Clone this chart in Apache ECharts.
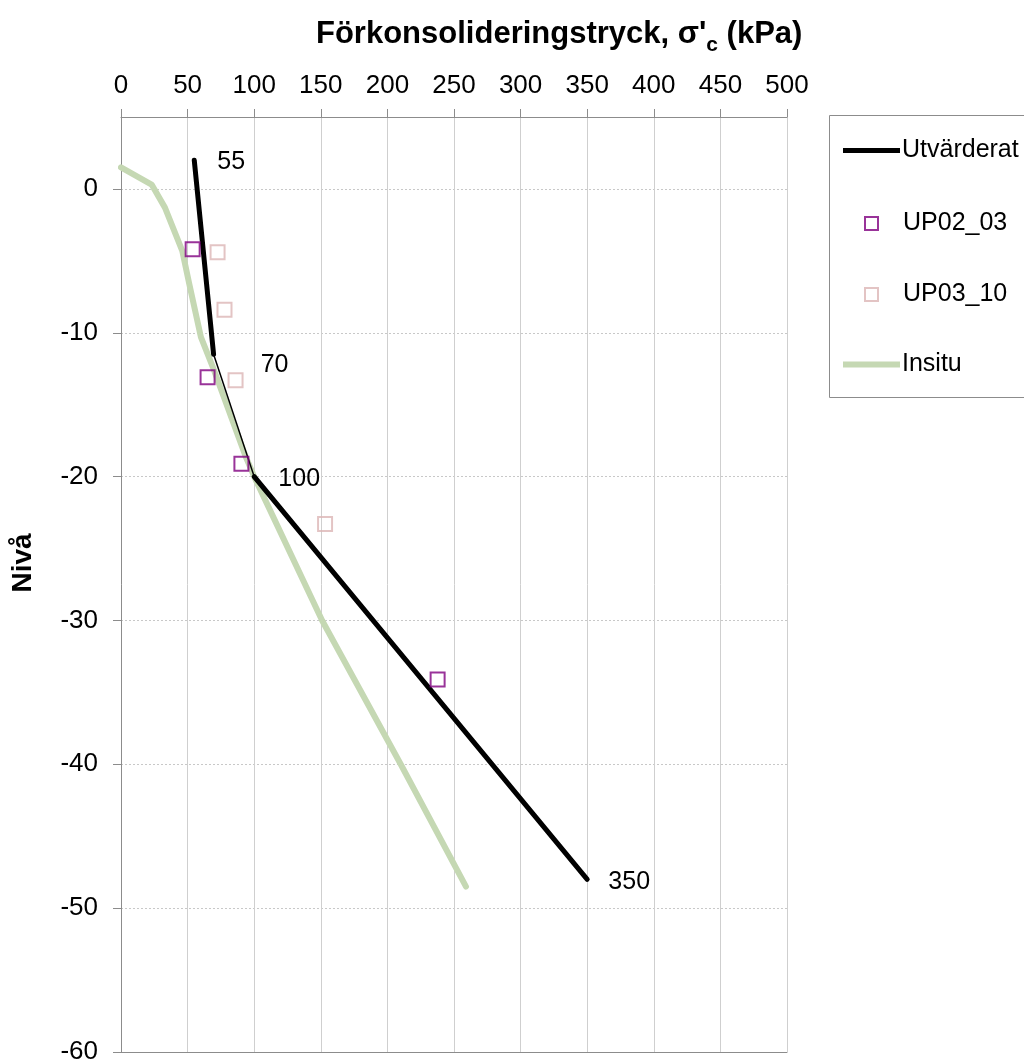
<!DOCTYPE html>
<html>
<head>
<meta charset="utf-8">
<script src="https://cdn.jsdelivr.net/npm/echarts@6/dist/echarts.min.js"></script>
<style>html,body{margin:0;padding:0;background:#fff}#c{width:1024px;height:1059px}</style>
</head>
<body>
<div id="c"></div>
<script>
// ---- data ----
var xTicks = [0, 50, 100, 150, 200, 250, 300, 350, 400, 450, 500];
var yTicks = [-60, -50, -40, -30, -20, -10, 0];
var utvX = [55, 69.5, 100, 350];
var utvY = [2, -11.5, -20, -48];
var utvLabels = ['55', '70', '100', '350'];
var up0203X = [53.8, 65, 90.4, 237.7];
var up0203Y = [-4.2, -13.1, -19.1, -34.1];
var up0310X = [72.5, 77.7, 86, 153.2];
var up0310Y = [-4.4, -8.4, -13.3, -23.3];
var insituX = [0, 23, 33, 46, 51, 60, 69, 94, 100, 151, 210, 259];
var insituY = [1.5, 0.3, -1.3, -4.3, -6.5, -10.3, -12.4, -18.7, -20, -30, -40, -48.5];

function pairs(xs, ys) { return xs.map(function (x, i) { return [x, ys[i]]; }); }

var FONT = "'Liberation Sans', Arial, sans-serif";
var labelOffsets = [[37, 2], [61, 11], [45, 2], [42, 3]];

var chart = echarts.init(document.getElementById('c'));
var option = {
  animation: false,
  backgroundColor: '#fff',
  textStyle: { fontFamily: FONT },
  title: {
    text: "Förkonsolideringstryck, σ'{sub|c} (kPa)",
    left: 311, top: 8,
    textStyle: {
      fontFamily: FONT, fontWeight: 'bold', fontSize: 31, color: '#000',
      rich: { sub: { fontFamily: FONT, fontWeight: 'bold', fontSize: 21, padding: [22, 0, 0, 0], color: '#000' } }
    }
  },
  grid: { left: 121, top: 117, width: 666, height: 935, outerBoundsMode: 'none', containLabel: false },
  xAxis: [{
    type: 'value', position: 'top', min: 0, max: 500, interval: 50,
    axisLine: { show: true, onZero: false, lineStyle: { color: '#8c8c8c', width: 1 } },
    axisTick: { show: true, inside: false, length: 8, lineStyle: { color: '#8c8c8c' } },
    axisLabel: { fontSize: 26, color: '#000', margin: 18, fontFamily: FONT,
      formatter: function (v) { return xTicks.indexOf(v) >= 0 ? String(v) : ''; } },
    splitLine: { show: true, lineStyle: { color: '#cfcfcf', width: 1, type: 'solid' } }
  }, {
    type: 'value', position: 'bottom', min: 0, max: 500, interval: 50,
    axisLine: { show: true, onZero: false, lineStyle: { color: '#8c8c8c', width: 1 } },
    axisTick: { show: false }, axisLabel: { show: false }, splitLine: { show: false }
  }],
  yAxis: {
    type: 'value', min: -60, max: 5, interval: 10,
    axisLine: { show: true, onZero: false, lineStyle: { color: '#8c8c8c', width: 1 } },
    axisTick: { show: true, inside: false, length: 8, lineStyle: { color: '#8c8c8c' } },
    axisLabel: { fontSize: 26, color: '#000', margin: 23, fontFamily: FONT, showMaxLabel: false,
      formatter: function (v) { return yTicks.indexOf(v) >= 0 ? String(v) : ''; } },
    splitLine: { show: true, lineStyle: { color: '#c8c8c8', width: 1, type: [2, 2] } }
  },
  legend: [
    { data: [{ name: 'Utvärderat', icon: 'rect' }], orient: 'vertical', left: 843, top: 138, padding: 0,
      itemWidth: 57, itemHeight: 5, textStyle: { fontSize: 25, color: '#000', fontFamily: FONT, padding: [0, 0, 0, -3] } },
    { data: [{ name: 'UP02_03', icon: 'rect' }, { name: 'UP03_10', icon: 'rect' }], orient: 'vertical', left: 864, top: 211, padding: 0,
      itemGap: 46, itemWidth: 13, itemHeight: 13,
      textStyle: { fontSize: 25, color: '#000', fontFamily: FONT, padding: [0, 0, 0, 20] } },
    { data: [{ name: 'Insitu', icon: 'rect' }], orient: 'vertical', left: 843, top: 352, padding: 0,
      itemWidth: 57, itemHeight: 6, textStyle: { fontSize: 25, color: '#000', fontFamily: FONT, padding: [0, 0, 0, -3] } }
  ],
  graphic: [
    { type: 'rect', shape: { x: 829.5, y: 115.5, width: 210, height: 282 }, style: { fill: 'none', stroke: '#8c8c8c', lineWidth: 1 }, z: 0 },
    { type: 'text', x: 23, y: 563, rotation: Math.PI / 2,
      style: { text: 'Nivå', fontSize: 28, fontWeight: 'bold', fontFamily: FONT, fill: '#000', align: 'center', verticalAlign: 'middle' } }
  ],
  series: [
    { name: 'Insitu', type: 'line', data: pairs(insituX, insituY), showSymbol: false, symbol: 'none',
      itemStyle: { color: '#c5d8b3' }, lineStyle: { color: '#c5d8b3', width: 6, cap: 'round', join: 'round' }, z: 2 },
    { name: 'Utvärderat', type: 'line', data: pairs(utvX.slice(0, 2), utvY.slice(0, 2)), showSymbol: false, symbol: 'none',
      itemStyle: { color: '#000' }, lineStyle: { color: '#000', width: 5, cap: 'round' }, z: 3 },
    { name: 'utv-mid', type: 'line', data: pairs(utvX.slice(1, 3), utvY.slice(1, 3)), showSymbol: false, symbol: 'none',
      itemStyle: { color: '#000' }, lineStyle: { color: '#000', width: 1.5 }, z: 3 },
    { name: 'utv-low', type: 'line', data: pairs(utvX.slice(2, 4), utvY.slice(2, 4)), showSymbol: false, symbol: 'none',
      itemStyle: { color: '#000' }, lineStyle: { color: '#000', width: 5, cap: 'round' }, z: 3 },
    { name: 'UP02_03', type: 'scatter', data: pairs(up0203X, up0203Y), symbol: 'rect', symbolSize: 14,
      itemStyle: { color: 'rgba(255,255,255,0)', borderColor: '#800080', borderWidth: 2 }, z: 4 },
    { name: 'UP03_10', type: 'scatter', data: pairs(up0310X, up0310Y), symbol: 'rect', symbolSize: 14,
      itemStyle: { color: 'rgba(255,255,255,0)', borderColor: '#dcb5b5', borderWidth: 2 }, z: 4 },
    { name: 'labels', type: 'scatter', symbolSize: 2, itemStyle: { color: 'rgba(255,255,255,0)', opacity: 1 }, z: 5, silent: true,
      data: utvX.map(function (x, i) {
        return { value: [x, utvY[i]],
          label: { show: true, position: [1 + labelOffsets[i][0], 1 + labelOffsets[i][1]], align: 'center', verticalAlign: 'middle',
            formatter: utvLabels[i], fontSize: 25, color: '#000', opacity: 1, textBorderWidth: 0, fontFamily: FONT } };
      }) }
  ]
};
chart.setOption(option);
</script>
</body>
</html>
